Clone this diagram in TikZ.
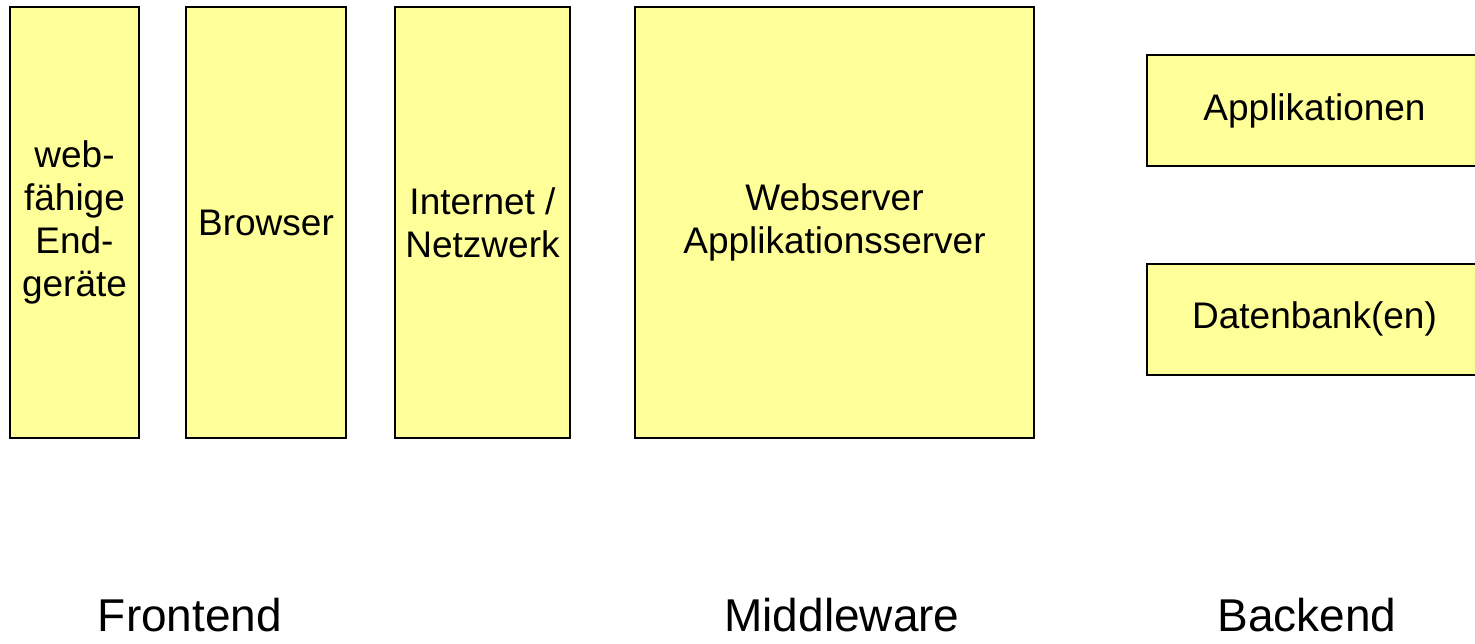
\documentclass[tikz,border=0pt]{standalone}
\usepackage{fontspec}
\setmainfont{Liberation Sans}
\definecolor{boxfill}{HTML}{FFFF99}
\tikzset{
    block/.style={rectangle,draw=black,line width=2pt,fill=boxfill,inner sep=0pt,
        align=center,font=\fontsize{37}{43}\selectfont},
    tier/.style={anchor=base,inner sep=0pt,text depth=0pt,font=\fontsize{46}{52}\selectfont}
}
\begin{document}
\begin{tikzpicture}[x=1pt,y=-1pt]
        \useasboundingbox (0,0) rectangle (1475,643);
        \begin{scope}[every node/.style={block,minimum height=431pt}]
            \node[minimum width=129pt] (geraete) at (74.5,222.5) {web-\\f\"ahige\\End-\\ger\"ate};
            \node[minimum width=160pt] (browser) at (266,222.5) {Browser};
            \node[minimum width=175pt] (netz) at (482.5,222.5) {Internet /\\Netzwerk};
            \node[minimum width=399pt] (server) at (834.5,222.5) {Webserver\\Applikationsserver};
        \end{scope}
        \begin{scope}[every node/.style={block,minimum width=335pt,minimum height=111pt}]
            \node (appl) at (1314.5,110.5) {Applikationen};
            \node (daten) at (1314.5,319) {Datenbank(en)};
        \end{scope}
        \node[tier] (frontend) at (190,631) {Frontend};
        \node[tier] (middleware) at (842,631) {Middleware};
        \node[tier] (backend) at (1307,631) {Backend};
    \end{tikzpicture}
\end{document}
